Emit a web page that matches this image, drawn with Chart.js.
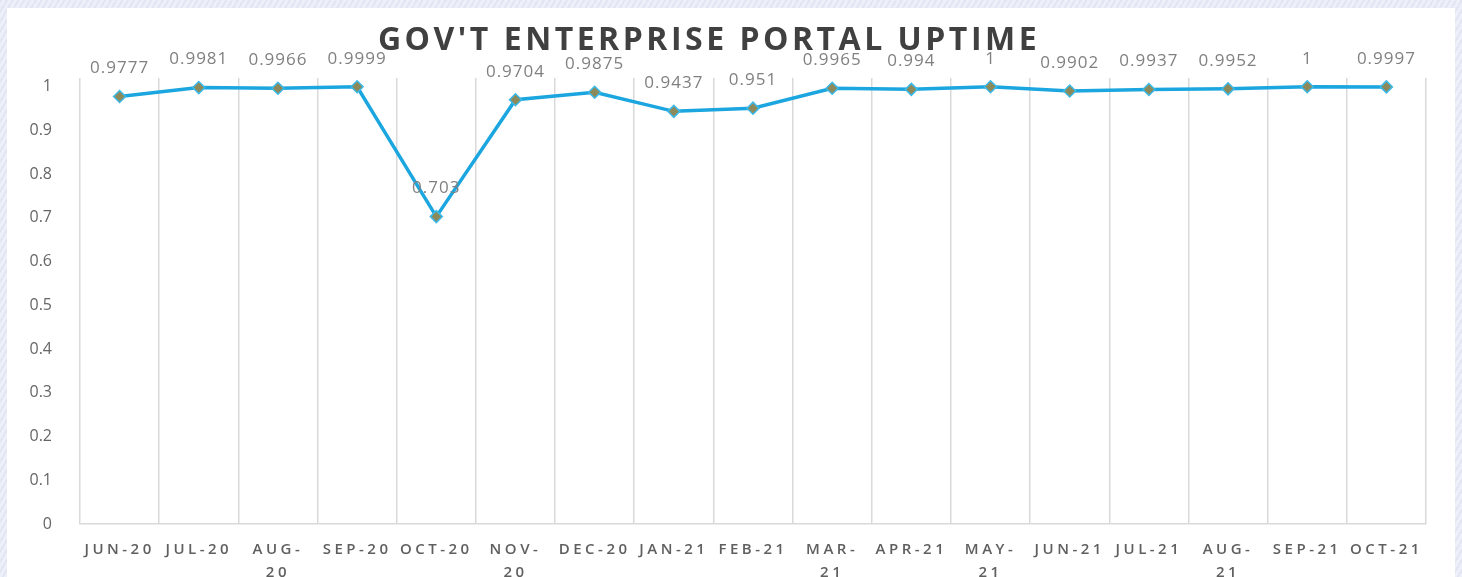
<!DOCTYPE html>
<html>
<head>
<meta charset="utf-8">
<script src="https://cdn.jsdelivr.net/npm/chart.js@4/dist/chart.umd.min.js"></script>
<style>
  html, body { margin: 0; padding: 0; }
  body {
    width: 1462px; height: 577px; overflow: hidden; position: relative;
    background: repeating-linear-gradient(120deg, #e2e6f2 0px, #e2e6f2 2px, #edf0f8 2px, #edf0f8 5px);
  }
  #panel { position: absolute; left: 7px; top: 8px; width: 1448px; height: 569px; background: #ffffff; }
  #wrap { position: absolute; left: 0; top: 0; width: 1462px; height: 577px; }
</style>
</head>
<body>
<div id="panel"></div>
<div id="wrap"><canvas id="myChart" width="1462" height="577"></canvas></div>
<script>
const chartTitle = "GOV'T ENTERPRISE PORTAL UPTIME";

const months = [
    "JUN-20", "JUL-20", ["AUG-", "20"], "SEP-20", "OCT-20", ["NOV-", "20"],
    "DEC-20", "JAN-21", "FEB-21", ["MAR-", "21"], "APR-21", ["MAY-", "21"],
    "JUN-21", "JUL-21", ["AUG-", "21"], "SEP-21", "OCT-21"
];

const uptime = [
    0.9777, 0.9981, 0.9966, 0.9999, 0.703, 0.9704,
    0.9875, 0.9437, 0.951, 0.9965, 0.994, 1,
    0.9902, 0.9937, 0.9952, 1, 0.9997
];

document.addEventListener("DOMContentLoaded", function () {
    // value labels over the points, then wide letter spacing for the x labels and title
    const labelsAndTitle = {
        id: "labelsAndTitle",
        beforeDraw(chart) {
            chart.ctx.letterSpacing = "0px";
        },
        afterDatasetsDraw(chart) {
            const ctx = chart.ctx;
            const meta = chart.getDatasetMeta(0);
            ctx.save();
            ctx.letterSpacing = "1px";
            ctx.font = "17px 'Open Sans'";
            ctx.fillStyle = "#808080";
            ctx.textAlign = "center";
            ctx.textBaseline = "middle";
            meta.data.forEach(function (pt, i) {
                ctx.fillText(String(uptime[i]), pt.x, pt.y - 28);
            });
            ctx.restore();
            ctx.letterSpacing = "3.5px";
        },
        afterDraw(chart) {
            const ctx = chart.ctx;
            ctx.save();
            ctx.letterSpacing = "3.5px";
            ctx.font = "bold 32px 'Open Sans'";
            ctx.fillStyle = "#404040";
            ctx.textAlign = "center";
            ctx.textBaseline = "alphabetic";
            ctx.fillText(chartTitle, 709, 50);
            ctx.restore();
            ctx.letterSpacing = "0px";
        }
    };

    const ctx = document.getElementById("myChart").getContext("2d");
    const myChart = new Chart(ctx, {
        type: "line",
        data: {
            labels: months,
            datasets: [
                {
                    label: "Uptime",
                    data: uptime,
                    fill: false,
                    borderColor: "#1ba6df",
                    borderWidth: 3.5,
                    tension: 0,
                    pointStyle: "rectRot",
                    pointRadius: 6,
                    pointBackgroundColor: "#8c8a5a",
                    pointBorderColor: "#3bb9e8",
                    pointBorderWidth: 1.5,
                },
            ],
        },
        options: {
            responsive: false,
            animation: false,
            layout: { padding: { top: 78, right: 36, left: 0, bottom: 0 } },
            plugins: {
                legend: { display: false },
                title: { display: false },
                tooltip: { enabled: false },
            },
            scales: {
                x: {
                    offset: true,
                    grid: { offset: true, color: "#d9d9d9", lineWidth: 1.5, drawTicks: false },
                    border: { display: true, color: "#d9d9d9", width: 1.5 },
                    ticks: {
                        z: 1,
                        autoSkip: false,
                        maxRotation: 0,
                        minRotation: 0,
                        padding: 14,
                        color: "#5f5f5f",
                        font: { family: "'Open Sans'", size: 15, weight: "600", lineHeight: 1.55 },
                    },
                    afterFit(scale) { scale.height = 53; },
                },
                y: {
                    min: 0,
                    max: 1.02,
                    grid: { display: false },
                    border: { display: false },
                    ticks: {
                        stepSize: 0.1,
                        includeBounds: false,
                        padding: 20,
                        color: "#666666",
                        font: { family: "'Open Sans'", size: 16 },
                        callback: function (value) { return String(Number(value.toFixed(1))); },
                    },
                    afterBuildTicks(scale) {
                        scale.ticks = scale.ticks.filter(function (t) { return t.value <= 1.0001; });
                    },
                    afterFit(scale) { scale.width = 80; },
                },
            },
        },
        plugins: [labelsAndTitle],
    });
});
</script>
</body>
</html>
